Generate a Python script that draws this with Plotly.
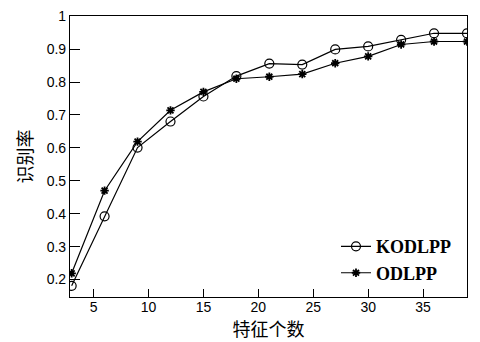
import plotly.graph_objects as go

x_vals = [3, 6, 9, 12, 15, 18, 21, 24, 27, 30, 33, 36, 39]
kodlpp = [0.181, 0.392, 0.601, 0.680, 0.756, 0.818, 0.856, 0.853, 0.899, 0.908, 0.928, 0.948, 0.948]
odlpp = [0.219, 0.470, 0.619, 0.714, 0.770, 0.810, 0.816, 0.824, 0.857, 0.878, 0.914, 0.923, 0.923]
x_ticks = [5, 10, 15, 20, 25, 30, 35]
y_ticks = [0.2, 0.3, 0.4, 0.5, 0.6, 0.7, 0.8, 0.9, 1]
y_tick_text = ["0.2", "0.3", "0.4", "0.5", "0.6", "0.7", "0.8", "0.9", "1"]

fig = go.Figure()
fig.add_trace(go.Scatter(
    x=x_vals, y=kodlpp, name="KODLPP", mode="lines+markers",
    line=dict(color="black", width=1.2),
    marker=dict(symbol="circle-open", size=9, color="black", line=dict(width=1.2)),
))
fig.add_trace(go.Scatter(
    x=x_vals, y=odlpp, name="ODLPP", mode="lines+markers",
    line=dict(color="black", width=1.2),
    marker=dict(symbol="asterisk-open", size=7, color="black", line=dict(width=1.8, color="black")),
))

fig.update_layout(
    width=480, height=342,
    margin=dict(l=70, r=13, t=8, b=44),
    paper_bgcolor="white", plot_bgcolor="white",
    showlegend=True,
    legend=dict(
        x=0.67, y=0.245, xanchor="left", yanchor="top",
        bgcolor="rgba(0,0,0,0)",
        font=dict(family="Liberation Serif", size=18, color="black", weight="bold"),
        tracegroupgap=0, itemwidth=30,
    ),
    font=dict(family="Liberation Sans", size=14, color="black"),
)
fig.update_xaxes(
    range=[2.85, 39.0], tickvals=x_ticks, ticks="inside", ticklen=8, tickwidth=1.2,
    tickcolor="black", showline=True, linecolor="black", linewidth=1.2, mirror=True,
    showgrid=False, zeroline=False, ticklabelstandoff=-3,
    tickfont=dict(family="Liberation Sans", size=14, color="black"),
    title=dict(text="特征个数", font=dict(family="Noto Sans CJK SC", size=18, color="black"), standoff=6),
)
fig.update_yaxes(
    range=[0.147, 1.0005], tickvals=y_ticks, ticktext=y_tick_text, ticks="inside", ticklen=10, tickwidth=1.2,
    tickcolor="black", showline=True, linecolor="black", linewidth=1.2, mirror=True,
    showgrid=False, zeroline=False,
    tickfont=dict(family="Liberation Sans", size=14, color="black"),
    title=dict(text="识别率", font=dict(family="Noto Sans CJK SC", size=18, color="black"), standoff=9),
)

fig.write_html("out.html", post_script="document.body.style.margin='0';",
               config={"displayModeBar": False})
